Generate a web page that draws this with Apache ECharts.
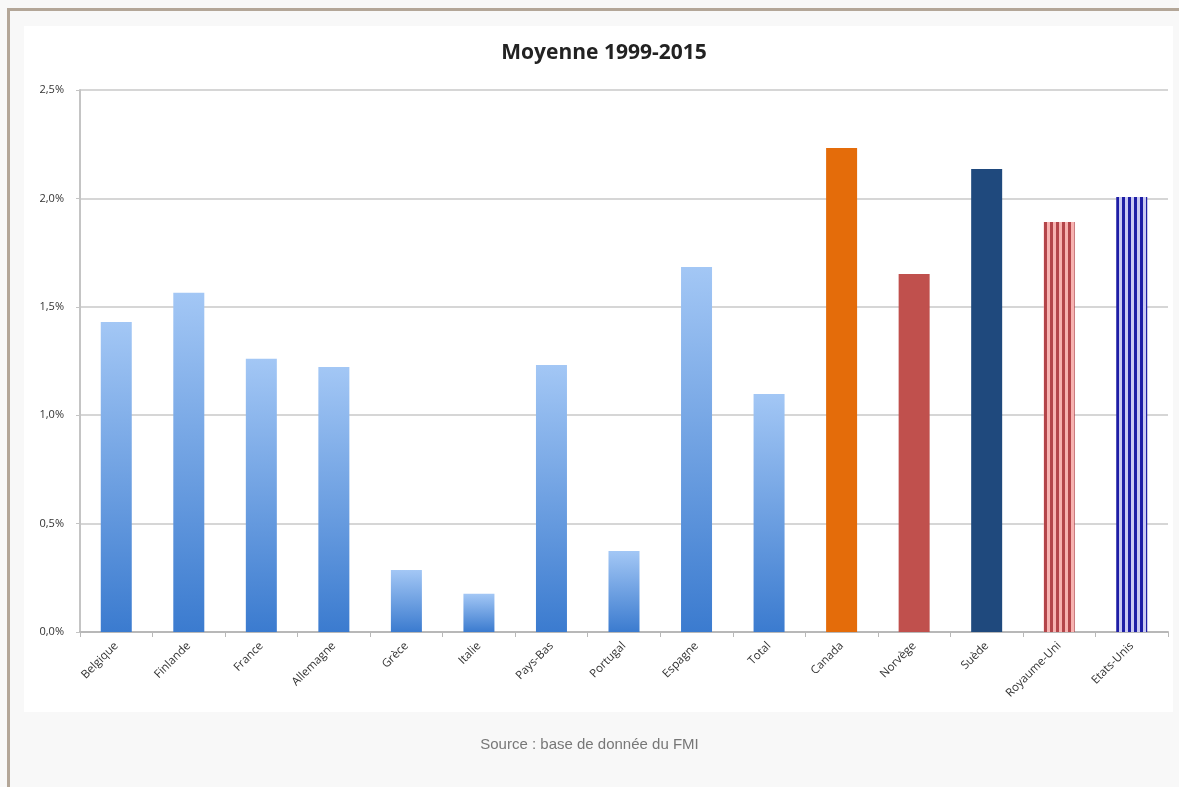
<!DOCTYPE html>
<html><head><meta charset="utf-8">
<script src="https://cdn.jsdelivr.net/npm/echarts@6/dist/echarts.min.js"></script>
<style>html,body{margin:0;padding:0;background:#f8f8f8;}#c{width:1179px;height:787px;}</style>
</head><body><div id="c"></div>
<script>
const categories = ['Belgique','Finlande','France','Allemagne','Grèce','Italie','Pays-Bas','Portugal','Espagne','Total','Canada','Norvège','Suède','Royaume-Uni','Etats-Unis'];
const values = [1.43,1.565,1.26,1.222,0.286,0.176,1.232,0.374,1.684,1.098,2.233,1.651,2.136,1.891,2.006];
const yTicks = [0,0.5,1.0,1.5,2.0,2.5];
const titleText = 'Moyenne 1999-2015';
const sourceText = 'Source : base de donnée du FMI';

function stripe(bg, fg){
  const c = document.createElement('canvas');
  c.width = 6; c.height = 10;
  const g = c.getContext('2d');
  g.fillStyle = bg; g.fillRect(0,0,6,10);
  g.fillStyle = fg; g.fillRect(0,0,3,10);
  return {image:c, repeat:'repeat'};
}
const blueGrad = {type:'linear',x:0,y:0,x2:0,y2:1,colorStops:[{offset:0,color:'#a3c7f5'},{offset:1,color:'#3b7bcf'}]};
const special = {
  'Canada':'#e46c0a',
  'Norvège':'#c0504d',
  'Suède':'#1f497d',
  'Royaume-Uni':stripe('#f7b2b0','#b4454a'),
  'Etats-Unis':stripe('#c9c9f2','#1e1ea6')
};
const data = categories.map((c,i)=>({value:values[i], itemStyle:{color: special[c] || blueGrad}}));

const chart = echarts.init(document.getElementById('c'), null, {renderer:'canvas'});
chart.setOption({
  backgroundColor:'#f8f8f8',
  animation:false,
  graphic:[
    {type:'rect', z:-10, shape:{x:7,y:8,width:1172,height:3}, style:{fill:'#b3a698'}},
    {type:'rect', z:-10, shape:{x:7,y:8,width:3,height:779}, style:{fill:'#b3a698'}},
    {type:'rect', z:-10, shape:{x:24,y:26,width:1149,height:686}, style:{fill:'#ffffff'}},
    {type:'text', x:604, y:43, style:{text:titleText, align:'center', fill:'#222', font:'bold 21px "Open Sans", sans-serif'}},
    {type:'text', left:'center', top:737, style:{text:sourceText, fill:'#777', font:'15px "Liberation Sans", Arial, sans-serif'}}
  ],
  grid:{left:80, right:11, top:90, bottom:155, containLabel:false},
  xAxis:{
    type:'category', data:categories,
    axisLine:{lineStyle:{color:'#b8b8b8', width:2}},
    axisTick:{show:true, length:5, lineStyle:{color:'#b8b8b8'}},
    axisLabel:{rotate:45, interval:0, fontSize:11.5, color:'#333', fontFamily:'"Open Sans", sans-serif', margin:12}
  },
  yAxis:{
    type:'value', min:0, max:2.5, interval:0.5,
    axisLine:{show:true, lineStyle:{color:'#c4c4c4', width:2}},
    axisTick:{show:true, length:4, lineStyle:{color:'#c4c4c4'}},
    splitLine:{lineStyle:{color:'#c8c8c8', width:1.5}},
    axisLabel:{fontSize:11, color:'#333', fontFamily:'"Open Sans", sans-serif', margin:16,
      formatter:v=> yTicks.includes(v) ? v.toFixed(1).replace('.',',')+'%' : ''}
  },
  series:[{type:'bar', data:data, barWidth:31}]
});
</script></body></html>
